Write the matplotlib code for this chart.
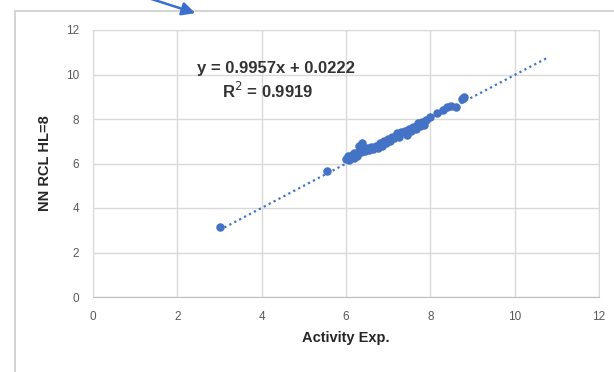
import numpy as np
import matplotlib.pyplot as plt
from matplotlib.patches import Rectangle, FancyArrowPatch

plt.rcParams["font.family"] = ["Liberation Sans", "DejaVu Sans"]

# ---- data ----
activity_exp = [3.00, 5.55,
                6.00, 6.05, 6.08, 6.10, 6.15, 6.18, 6.20, 6.25, 6.30, 6.32,
                6.35, 6.38, 6.40, 6.45, 6.50, 6.55, 6.60, 6.65, 6.70, 6.75,
                6.80, 6.85, 6.90, 6.95, 7.00, 7.05, 7.10, 7.15, 7.20, 7.25,
                7.30, 7.40, 7.45, 7.50, 7.55, 7.60, 7.65, 7.70, 7.75, 7.80,
                7.85, 7.90, 8.00, 8.15, 8.30, 8.40, 8.50, 8.60, 8.75, 8.78,
                8.80]
nn_rcl = [3.15, 5.65,
          6.20, 6.35, 6.15, 6.30, 6.40, 6.25, 6.45, 6.35, 6.55, 6.80,
          6.50, 6.90, 6.60, 6.55, 6.70, 6.60, 6.75, 6.65, 6.80, 6.70,
          6.90, 6.80, 7.00, 6.90, 7.10, 7.00, 7.20, 7.15, 7.35, 7.20,
          7.40, 7.45, 7.30, 7.55, 7.45, 7.65, 7.55, 7.80, 7.70, 7.85,
          7.75, 7.95, 8.10, 8.25, 8.40, 8.55, 8.60, 8.55, 8.90, 8.95,
          9.00]

slope, intercept, r2 = 0.9957, 0.0222, 0.9919
trend_x = [3.0, 10.8]
ticks = [0, 2, 4, 6, 8, 10, 12]

blue = "#4472C4"
grid = "#d9d9d9"

fig = plt.figure(figsize=(6.14, 3.72), dpi=100)

# outer chart frame
fig.patches.append(Rectangle((15 / 614, -0.05), 1.0, 1 - 11 / 372 + 0.05,
                             transform=fig.transFigure, fill=False,
                             edgecolor="#d4d4d4", lw=1.5))
# blue arrow at the top
fig.patches.append(FancyArrowPatch((143 / 614, 1.01), (198 / 614, 1 - 14 / 372),
                                   transform=fig.transFigure, color="#3b6fce",
                                   arrowstyle="-|>", mutation_scale=20, lw=1.8))

ax = fig.add_axes([93 / 614, 1 - 297 / 372, 506 / 614, 267 / 372])
ax.set_xlim(0, 12)
ax.set_ylim(0, 12)
ax.set_xticks(ticks)
ax.set_yticks(ticks)
ax.grid(color=grid, lw=1)
ax.set_axisbelow(True)
for side in ["top", "right", "left"]:
    ax.spines[side].set_color(grid)
ax.spines["bottom"].set_color("#bfbfbf")
ax.tick_params(length=0, labelsize=8.5, labelcolor="#595959", pad=10)

tx = np.array(trend_x)
ax.plot(tx, slope * tx + intercept, ls=(0, (1, 1.5)), color=blue, lw=1.6)
ax.scatter(activity_exp, nn_rcl, s=26, color=blue, zorder=3)

ax.text(4.35, 10.28, f"y = {slope}x + {intercept}", ha="center", va="center",
        fontsize=12, fontweight="bold", color="#333333")
ax.text(4.15, 9.28, f"R$^2$ = {r2}", ha="center", va="center",
        fontsize=12, fontweight="bold", color="#333333")

ax.set_xlabel("Activity Exp.", fontsize=10.5, fontweight="bold",
              color="#262626", labelpad=6)
ax.set_ylabel("NN RCL HL=8", fontsize=10.5, fontweight="bold",
              color="#262626", labelpad=10)

fig.savefig("out.png", dpi=100)
